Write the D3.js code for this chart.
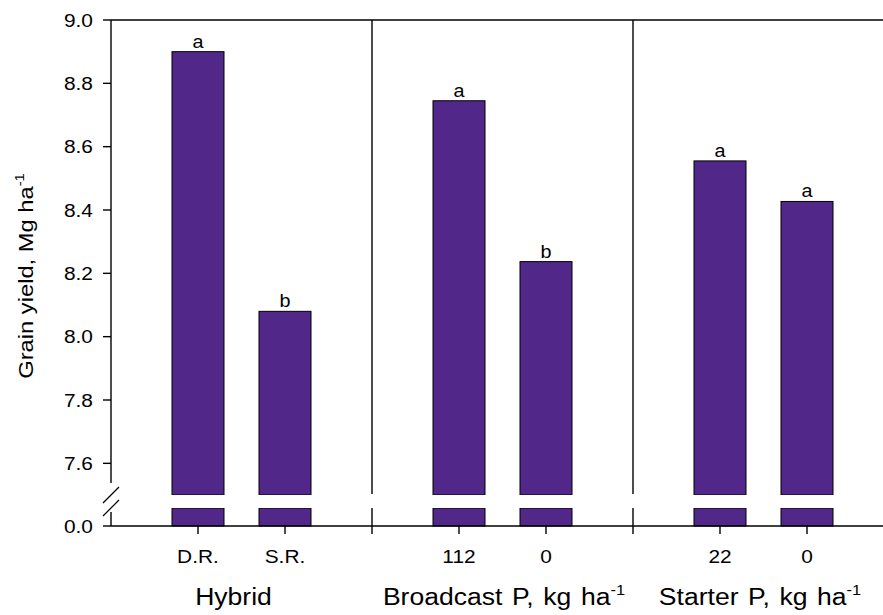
<!DOCTYPE html>
<html><head><meta charset="utf-8">
<script src="https://cdn.jsdelivr.net/npm/d3@7"></script>
<style>body{margin:0;background:#fff}svg{display:block;font-family:"Liberation Sans",Arial,sans-serif}</style>
</head><body><svg id="c" width="883" height="615"></svg>
<script>
const groups = ["Hybrid", "Broadcast P, kg ha", "Starter P, kg ha"];
const groupSup = ["", "-1", "-1"];
const categories = ["D.R.", "S.R.", "112", "0", "22", "0"];
const categoryGroup = [0, 0, 1, 1, 2, 2];
const values = [8.90, 8.08, 8.745, 8.237, 8.555, 8.427];
const letters = ["a", "b", "a", "b", "a", "a"];
const upperTicks = [7.6, 7.8, 8.0, 8.2, 8.4, 8.6, 8.8, 9.0];
const lowerTicks = [0.0];

(function () {
const svg = d3.select("#c");
const pL = 111, pR = 894, pT = 20, pB = 526;
const breakTop = 495, breakBot = 508;
const purple = "#51278a";
const SX = 1.13;
const groupShift = [-8, 1.5, -3.5];

function txt(x, y, str, size, anchor, rot) {
  const gg = svg.append("g").attr("transform",
    "translate(" + x + "," + y + ")" + (rot ? " rotate(" + rot + ")" : "") + " scale(" + SX + ",1)");
  const t = gg.append("text").attr("text-anchor", anchor || "middle").attr("font-size", size).attr("fill", "#000");
  t.append("tspan").text(str);
  return t;
}

const slots = categories.map((c, i) => categoryGroup[i] * 3 + (i % 2) + 1);
const x = d3.scaleLinear().domain([0, 9]).range([pL, pR]);
const barW = 52;
const yU = d3.scaleLinear().domain([7.5, 9.0]).range([breakTop, pT]);
const yL = d3.scaleLinear().domain([0, 0.5]).range([pB, breakBot]);

categories.forEach((c, i) => {
  const cx = x(slots[i]);
  svg.append("rect").attr("x", cx - barW / 2).attr("y", yU(values[i]))
    .attr("width", barW).attr("height", yU(7.5) - yU(values[i]))
    .attr("fill", purple).attr("stroke", "#000").attr("stroke-width", 1);
  svg.append("rect").attr("x", cx - barW / 2).attr("y", breakBot)
    .attr("width", barW).attr("height", pB - breakBot)
    .attr("fill", purple).attr("stroke", "#000").attr("stroke-width", 1);
  txt(cx, yU(values[i]) - 4, letters[i], 17.5);
});
svg.append("rect").attr("x", pL + 1).attr("y", breakTop).attr("width", pR - pL)
  .attr("height", breakBot - breakTop).attr("fill", "#fff");

const line = (x1, y1, x2, y2, w) => svg.append("line").attr("x1", x1).attr("y1", y1)
  .attr("x2", x2).attr("y2", y2).attr("stroke", "#000").attr("stroke-width", w || 1.4);

line(pL, pT, pR, pT);
line(pL, pB, pR, pB);
line(pL, pT, pL, breakTop - 12);
line(pL, breakBot + 4, pL, pB);
line(pL - 8, breakTop + 8, pL + 8, breakTop - 8, 1.2);
line(pL - 8, breakBot + 8, pL + 8, breakBot - 8, 1.2);

[3, 6].forEach(s => {
  line(x(s), pT, x(s), breakTop - 1);
  line(x(s), breakBot, x(s), pB + 8);
});

upperTicks.forEach(t => {
  line(pL - 8, yU(t), pL, yU(t));
  txt(pL - 18, yU(t) + 6.5, t.toFixed(1), 18.5, "end");
});
lowerTicks.forEach(t => {
  line(pL - 8, yL(t), pL, yL(t));
  txt(pL - 18, yL(t) + 6.5, t.toFixed(1), 18.5, "end");
});

categories.forEach((c, i) => {
  const cx = x(slots[i]);
  line(cx, pB, cx, pB + 8);
  txt(cx, 563, c, 18.5);
});
groups.forEach((gname, k) => {
  const cx = (x(k * 3 + 1) + x(k * 3 + 2)) / 2 + groupShift[k];
  const t = txt(cx, 605, gname, 23.5).attr("word-spacing", 2);
  if (groupSup[k]) t.append("tspan").attr("dy", -10).attr("font-size", 14.5).text(groupSup[k]);
});

const yl = txt(33, 276, "Grain yield, Mg ha", 21, "middle", -90);
yl.append("tspan").attr("dy", -9).attr("font-size", 13).text("-1");
})();
</script></body></html>
